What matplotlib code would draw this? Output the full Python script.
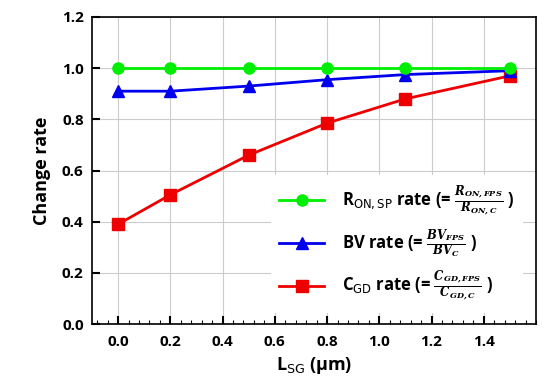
import matplotlib
matplotlib.use("Agg")
import matplotlib.pyplot as plt
from matplotlib.ticker import MultipleLocator

plt.rcParams['font.family'] = ['Open Sans', 'DejaVu Sans']
plt.rcParams['mathtext.fontset'] = 'dejavuserif'

x_vals = [0.0, 0.2, 0.5, 0.8, 1.1, 1.5]
ron_rate = [1.0, 1.0, 1.0, 1.0, 1.0, 1.0]
bv_rate = [0.91, 0.91, 0.93, 0.955, 0.975, 0.99]
cgd_rate = [0.39, 0.505, 0.66, 0.785, 0.88, 0.97]

labels = [
    r'R$_{\mathsf{ON,SP}}$ rate (= $\frac{\mathbfit{R_{ON,FPS}}}{\mathbfit{R_{ON,C}}}$ )',
    r'BV rate (= $\frac{\mathbfit{BV_{FPS}}}{\mathbfit{BV_{C}}}$ )',
    r'C$_{\mathsf{GD}}$ rate (= $\frac{\mathbfit{C_{GD,FPS}}}{\mathbfit{C_{GD,C}}}$ )',
]

fig = plt.figure(figsize=(5.5, 3.91), dpi=100)
ax = fig.add_axes([92/550, 1-324/391, (536-92)/550, (324-17)/391])

ax.plot(x_vals, ron_rate, color='#00ee00', marker='o', markersize=8, lw=2, label=labels[0], zorder=5)
ax.plot(x_vals, bv_rate, color='#0000ee', marker='^', markersize=8, lw=2, label=labels[1], zorder=4)
ax.plot(x_vals, cgd_rate, color='#ee0000', marker='s', markersize=8, lw=2, label=labels[2], zorder=3)

ax.set_xlim(-0.1, 1.6)
ax.set_ylim(0.0, 1.2)
ax.xaxis.set_minor_locator(MultipleLocator(0.04))
ax.yaxis.set_major_locator(MultipleLocator(0.2))
ax.set_xticks([0.0, 0.2, 0.4, 0.6, 0.8, 1.0, 1.2, 1.4])
ax.grid(True, which='major', color='#cccccc', lw=0.8)
ax.tick_params(which='both', direction='in', top=False, right=False, labelsize=11)
ax.tick_params(which='major', length=6, width=1.5)
ax.tick_params(which='minor', length=3, width=0.8)
for lab in ax.get_xticklabels() + ax.get_yticklabels():
    lab.set_fontweight('bold')
ax.tick_params(axis='x', pad=8)
ax.tick_params(axis='y', pad=6)

ax.set_xlabel(r'L$_{\mathsf{SG}}$ (μm)', fontsize=13, fontweight='bold')
ax.set_ylabel('Change rate', fontsize=13, fontweight='bold', labelpad=8)

leg = ax.legend(loc='lower right', fontsize=12, frameon=True, fancybox=False,
                edgecolor='none', facecolor='white', framealpha=1, borderpad=0.5,
                labelspacing=0.5, handlelength=2.7, handletextpad=1.1,
                bbox_to_anchor=(0.99, 0.01))
for t in leg.get_texts():
    t.set_fontweight('bold')

for s in ax.spines.values():
    s.set_linewidth(1.2)

fig.savefig('out.png', dpi=100)
